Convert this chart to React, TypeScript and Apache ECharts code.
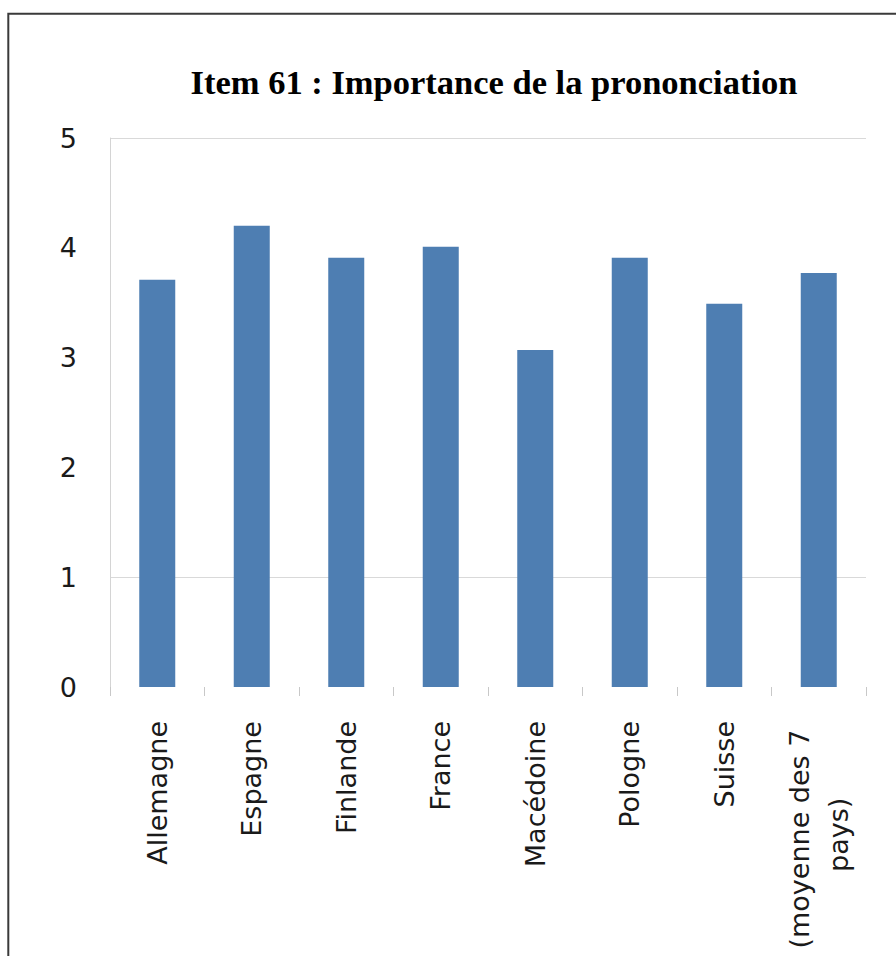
import React, { useEffect, useRef } from "react";
import * as echarts from "echarts";

const TITLE = "Item 61 : Importance de la prononciation";
const categories = [
  "Allemagne",
  "Espagne",
  "Finlande",
  "France",
  "Macédoine",
  "Pologne",
  "Suisse",
  "(moyenne des 7 \npays)",
];
const values = [3.71, 4.2, 3.91, 4.01, 3.07, 3.91, 3.49, 3.77];
const yTicks = [0, 1, 2, 3, 4, 5];

export default function App() {
  const ref = useRef<HTMLDivElement>(null);
  useEffect(() => {
    if (!ref.current) return;
    const chart = echarts.init(ref.current, null, { renderer: "svg" });
    const labelFont = "'DejaVu Sans', 'Liberation Sans', sans-serif";
    chart.setOption({
      animation: false,
      backgroundColor: "#ffffff",
      title: {
        text: TITLE,
        left: 489,
        top: 59,
        textAlign: "center",
        textStyle: {
          fontFamily: "'Liberation Serif', 'Times New Roman', serif",
          fontWeight: "bold",
          fontSize: 34.5,
          color: "#000000",
        },
      },
      graphic: [
        {
          type: "rect",
          shape: { x: 8.3, y: 13.8, width: 920, height: 980 },
          style: { fill: "none", stroke: "#3a3a3a", lineWidth: 2 },
          silent: true,
        },
      ],
      grid: { left: 110, right: 30, top: 138, bottom: 269, containLabel: false },
      xAxis: {
        type: "category",
        data: categories,
        boundaryGap: true,
        axisLine: { show: false },
        axisTick: {
          show: true,
          length: 9,
          lineStyle: { color: "#c8c8c8", width: 1 },
        },
        axisLabel: {
          rotate: 90,
          margin: 34,
          interval: 0,
          fontFamily: labelFont,
          fontSize: 27,
          color: "#1a1a1a",
          formatter: (v: string) =>
            v.includes("\n")
              ? v
                  .split("\n")
                  .map((s) => `{c|${s}}`)
                  .join("\n")
              : v,
          rich: {
            c: {
              fontFamily: labelFont,
              fontSize: 27,
              lineHeight: 39,
              color: "#1a1a1a",
              align: "center",
            },
          },
        },
      },
      yAxis: {
        type: "value",
        min: yTicks[0],
        max: yTicks[yTicks.length - 1],
        interval: 1,
        axisLine: { show: true, lineStyle: { color: "#d4d4d4", width: 1 } },
        axisTick: { show: false },
        axisLabel: {
          margin: 33,
          fontFamily: labelFont,
          fontSize: 27,
          color: "#1a1a1a",
        },
        splitLine: {
          show: true,
          lineStyle: {
            color: [
              "rgba(0,0,0,0)",
              "#d9d9d9",
              "rgba(0,0,0,0)",
              "rgba(0,0,0,0)",
              "rgba(0,0,0,0)",
              "#d9d9d9",
            ],
            width: 1,
          },
        },
      },
      series: [
        {
          type: "bar",
          data: values,
          barWidth: 36,
          itemStyle: { color: "#4e7eb2" },
        },
      ],
    });
    return () => chart.dispose();
  }, []);
  return (
    <div
      ref={ref}
      style={{ position: "absolute", left: 0, top: 0, width: 896, height: 956 }}
    />
  );
}
